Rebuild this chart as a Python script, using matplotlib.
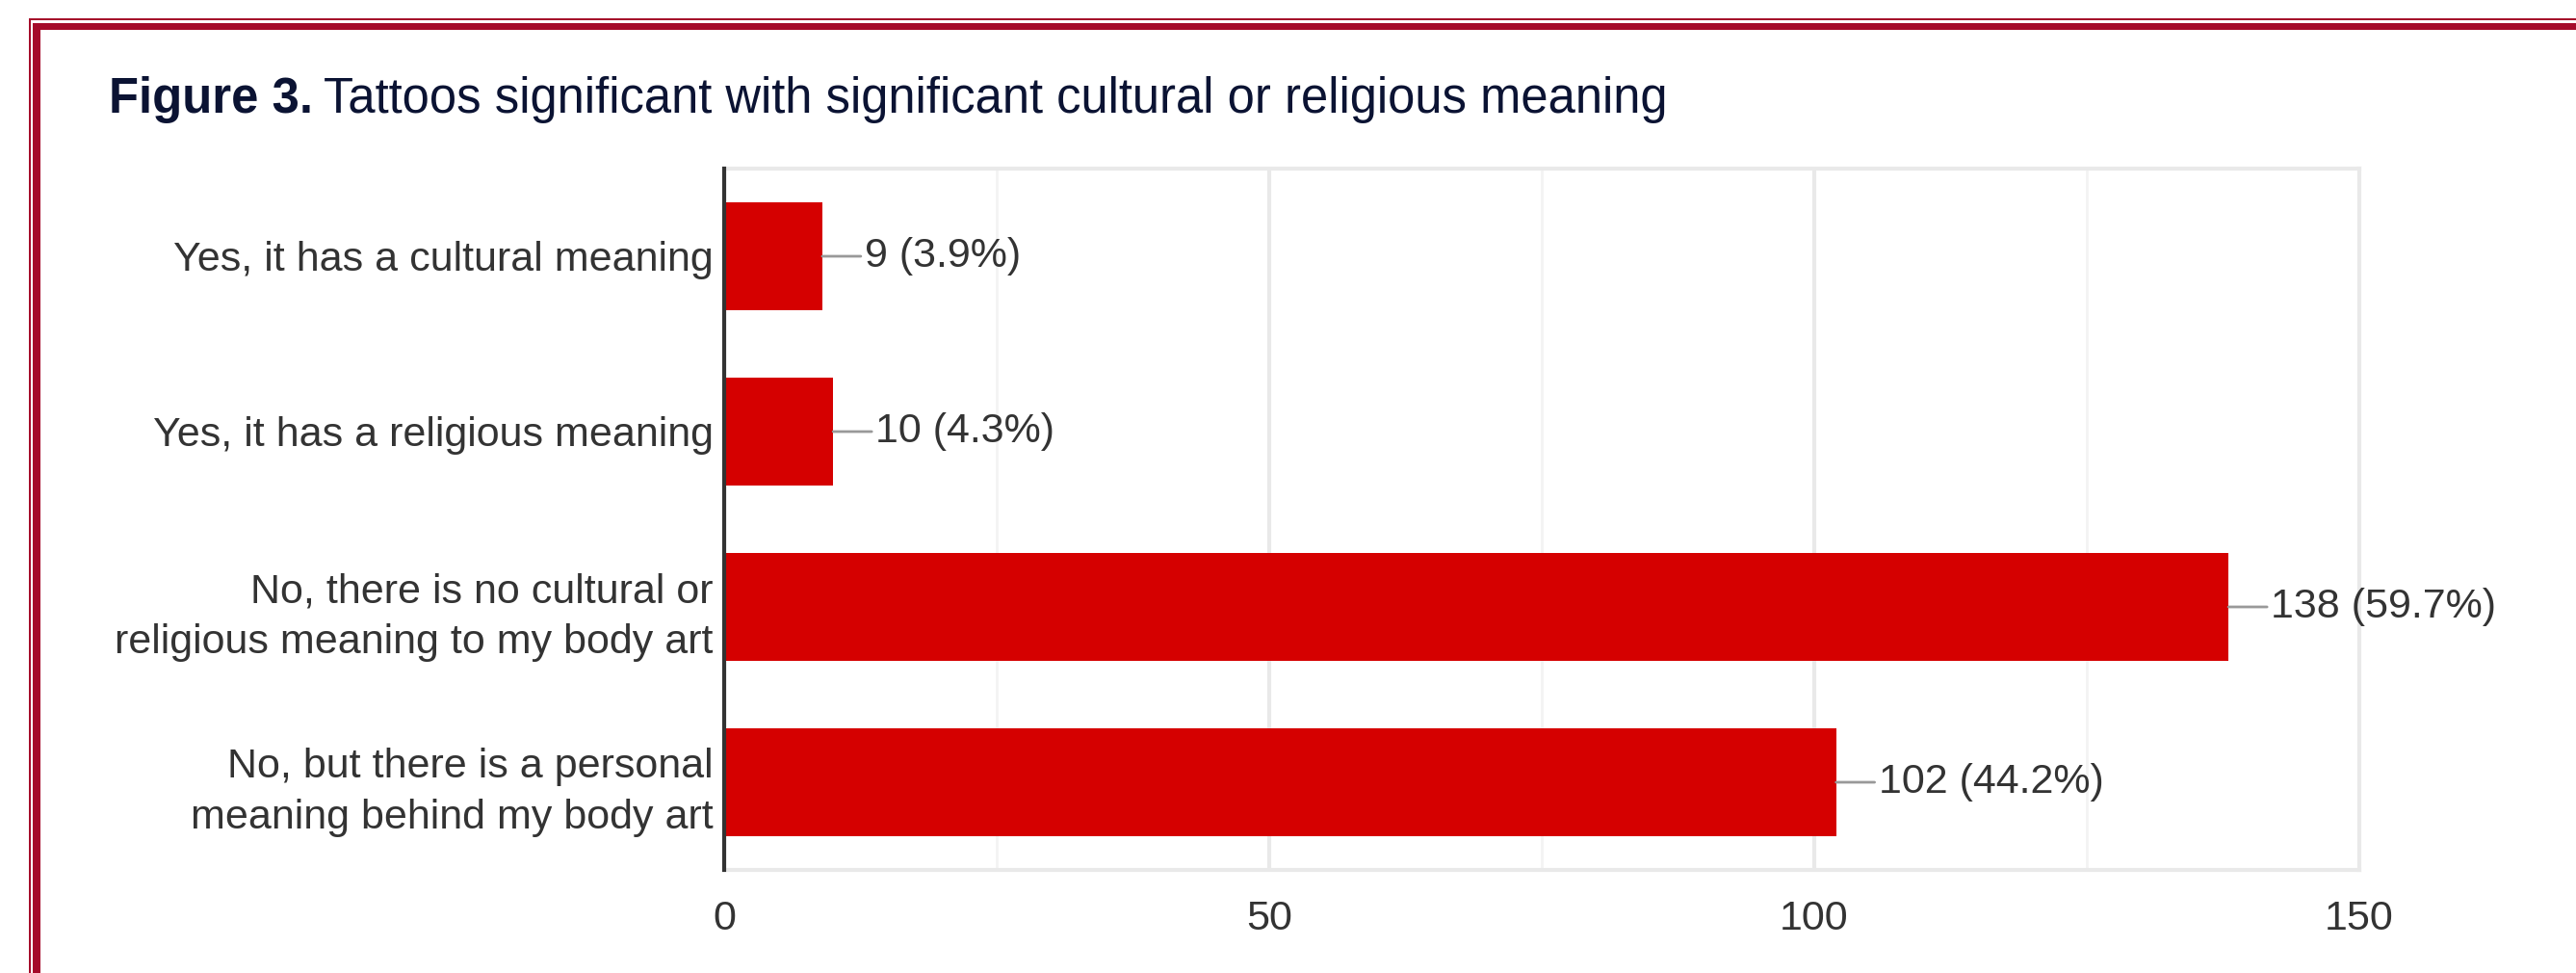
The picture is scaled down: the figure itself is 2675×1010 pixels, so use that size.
import matplotlib
matplotlib.use('Agg')
import matplotlib.pyplot as plt
from matplotlib.patches import Rectangle

plt.rcParams['font.family'] = ['Liberation Sans', 'DejaVu Sans']

# 数据
categories = ['Yes, it has a cultural meaning',
              'Yes, it has a religious meaning',
              'No, there is no cultural or\nreligious meaning to my body art',
              'No, but there is a personal\nmeaning behind my body art']
counts = [9, 10, 138, 102]
percents = [3.9, 4.3, 59.7, 44.2]
x_ticks = [0, 50, 100, 150]

W, H = 2675, 1010
fig = plt.figure(figsize=(W / 100, H / 100), dpi=100)
ax = fig.add_axes([752 / W, 1 - 903 / H, (2450 - 752) / W, (903 - 175) / H])

bar_color = '#d50000'
text_color = '#333333'
y_pos = list(range(len(categories)))
ax.barh(y_pos, counts, height=0.62, color=bar_color, zorder=3)

ax.set_xlim(0, 150)
ax.set_ylim(3.5, -0.5)

# 网格线
for v in [25, 75, 125]:
    ax.axvline(v, color='#f3f3f3', lw=2, zorder=1)
for v in [50, 100]:
    ax.axvline(v, color='#e9e9e9', lw=3, zorder=1)

for side in ['top', 'right', 'bottom']:
    ax.spines[side].set_color('#e9e9e9')
    ax.spines[side].set_linewidth(3)
ax.spines['left'].set_color('#333333')
ax.spines['left'].set_linewidth(3)
ax.spines['left'].set_zorder(4)

ax.set_xticks(x_ticks)
ax.set_yticks(y_pos)
ax.set_yticklabels(categories)
ax.tick_params(axis='both', length=0, labelsize=31, labelcolor=text_color)
ax.tick_params(axis='x', pad=22)
ax.tick_params(axis='y', pad=8)
for lbl in ax.get_yticklabels():
    lbl.set_linespacing(1.4)

# 数值标签和引线
for y, c, p in zip(y_pos, counts, percents):
    ax.annotate('', xy=(c, y), xytext=(40, 0), textcoords='offset pixels',
                arrowprops=dict(arrowstyle='-', color='#999999', lw=2,
                                shrinkA=0, shrinkB=0))
    ax.annotate(f'{c} ({p}%)', xy=(c, y), xytext=(44, 0),
                textcoords='offset pixels', va='center', ha='left',
                fontsize=31, color=text_color)

# 标题
title_color = '#0b1333'
t1 = fig.text(113 / W, 1 - 117 / H, 'Figure 3.', fontsize=36.5, fontweight='bold',
              color=title_color, va='baseline', ha='left')
fig.canvas.draw()
bb = t1.get_window_extent()
fig.text((bb.x1 + 11) / W, 1 - 117 / H,
         'Tattoos significant with significant cultural or religious meaning',
         fontsize=36.5, color=title_color, va='baseline', ha='left')

# 外框
border = '#a50a2a'
fig.add_artist(Rectangle((30 / W, 0), 2 / W, 1 - 19 / H, transform=fig.transFigure,
                         color=border, lw=0))
fig.add_artist(Rectangle((34 / W, 0), 8 / W, 1 - 24 / H, transform=fig.transFigure,
                         color=border, lw=0))
fig.add_artist(Rectangle((30 / W, 1 - 21 / H), 1 - 30 / W, 2 / H,
                         transform=fig.transFigure, color=border, lw=0))
fig.add_artist(Rectangle((34 / W, 1 - 31 / H), 1 - 34 / W, 7 / H,
                         transform=fig.transFigure, color=border, lw=0))

fig.savefig('out.png', dpi=100)
